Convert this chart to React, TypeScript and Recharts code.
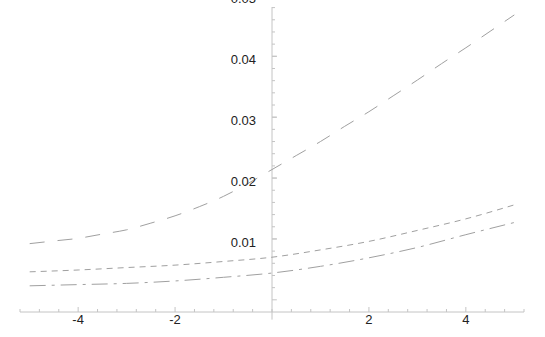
import { LineChart, Line, XAxis, YAxis, ReferenceLine } from 'recharts';

const xs = [-5, -4.5, -4, -3.5, -3, -2.5, -2, -1.5, -1, -0.5, 0, 0.5, 1, 1.5, 2, 2.5, 3, 3.5, 4, 4.5, 5];
const longDash = [0.00923, 0.00967, 0.0101, 0.0108, 0.0115, 0.0126, 0.0138, 0.0153, 0.017, 0.0191, 0.0214, 0.0237, 0.026, 0.0285, 0.0309, 0.0335, 0.0361, 0.0388, 0.0414, 0.0441, 0.0468];
// the two lower curves were read at whole x values only
const shortDash = [0.0046, null, 0.0049, null, 0.0053, null, 0.0057, null, 0.0063, null, 0.007, null, 0.0082, null, 0.0096, null, 0.0114, null, 0.0133, null, 0.0156];
const dotDash = [0.0023, null, 0.0025, null, 0.0027, null, 0.0031, null, 0.0037, null, 0.0044, null, 0.0055, null, 0.0069, null, 0.0086, null, 0.0107, null, 0.0127];

const xTicks = [-5.2, -4.8, -4.4, -4, -3.6, -3.2, -2.8, -2.4, -2, -1.6, -1.2, -0.8, -0.4, 0, 0.4, 0.8, 1.2, 1.6, 2, 2.4, 2.8, 3.2, 3.6, 4, 4.4, 4.8, 5.2];
const xLabels = [-4, -2, 2, 4];
const yTicks = [0, 0.002, 0.004, 0.006, 0.008, 0.01, 0.012, 0.014, 0.016, 0.018, 0.02, 0.022, 0.024, 0.026, 0.028, 0.03, 0.032, 0.034, 0.036, 0.038, 0.04, 0.042, 0.044, 0.046, 0.048];
const yLabels = ['0.01', '0.02', '0.03', '0.04', '0.05'];

const data = xs.map((x, i) => ({ x, a: longDash[i], b: shortDash[i], c: dotDash[i] }));

const axisColor = '#c4c4c4';
const lineColor = '#a0a0a0';
const font = '"Liberation Sans", Arial, sans-serif';

const XTick = ({ x, y, payload }: any) => {
  const major = xLabels.some((v) => Math.abs(v - payload.value) < 1e-6);
  return (
    <g>
      <line x1={x} x2={x} y1={y} y2={y - (major ? 5 : 3)} stroke={axisColor} />
      {major && (
        <text x={x} y={y + 12} textAnchor="middle" fontSize={13} fill="#222" fontFamily={font}>
          {payload.value}
        </text>
      )}
    </g>
  );
};

export default function App() {
  return (
    <div style={{ position: 'absolute', left: 0, top: 0 }}>
      <LineChart width={545} height={337} data={data} margin={{ top: 7, right: 21, left: 20, bottom: 0 }}>
        <XAxis
          type="number"
          dataKey="x"
          domain={[-5.2, 5.2]}
          ticks={xTicks}
          interval={0}
          height={25}
          tickSize={0}
          tickMargin={0}
          stroke={axisColor}
          tick={<XTick />}
          allowDataOverflow
        />
        <YAxis hide type="number" domain={[-0.002, 0.0481]} allowDataOverflow />

        <ReferenceLine
          segment={[{ x: 0, y: -0.00325 }, { x: 0, y: 0.0481 }]}
          stroke={axisColor}
          ifOverflow="visible"
        />
        {yTicks.map((v) => (
          <ReferenceLine
            key={v}
            segment={[{ x: 0, y: v }, { x: Math.round(v * 1e4) % 100 === 0 ? 0.1 : 0.062, y: v }]}
            stroke={axisColor}
          />
        ))}
        {yLabels.map((s) => (
          <ReferenceLine
            key={s}
            segment={[{ x: 0, y: Number(s) }, { x: 0.1, y: Number(s) }]}
            stroke={axisColor}
            ifOverflow="visible"
            label={{ value: s, position: 'left', offset: 16, dy: 3, fill: '#222', fontSize: 13, fontFamily: font }}
          />
        ))}

        <Line type="monotone" dataKey="a" stroke={lineColor} strokeWidth={1} strokeDasharray="15 13" dot={false} isAnimationActive={false} />
        <Line type="monotone" dataKey="b" stroke={lineColor} strokeWidth={1} strokeDasharray="6 5" dot={false} connectNulls isAnimationActive={false} />
        <Line type="monotone" dataKey="c" stroke={lineColor} strokeWidth={1} strokeDasharray="16 6 3 6" dot={false} connectNulls isAnimationActive={false} />
      </LineChart>
    </div>
  );
}
